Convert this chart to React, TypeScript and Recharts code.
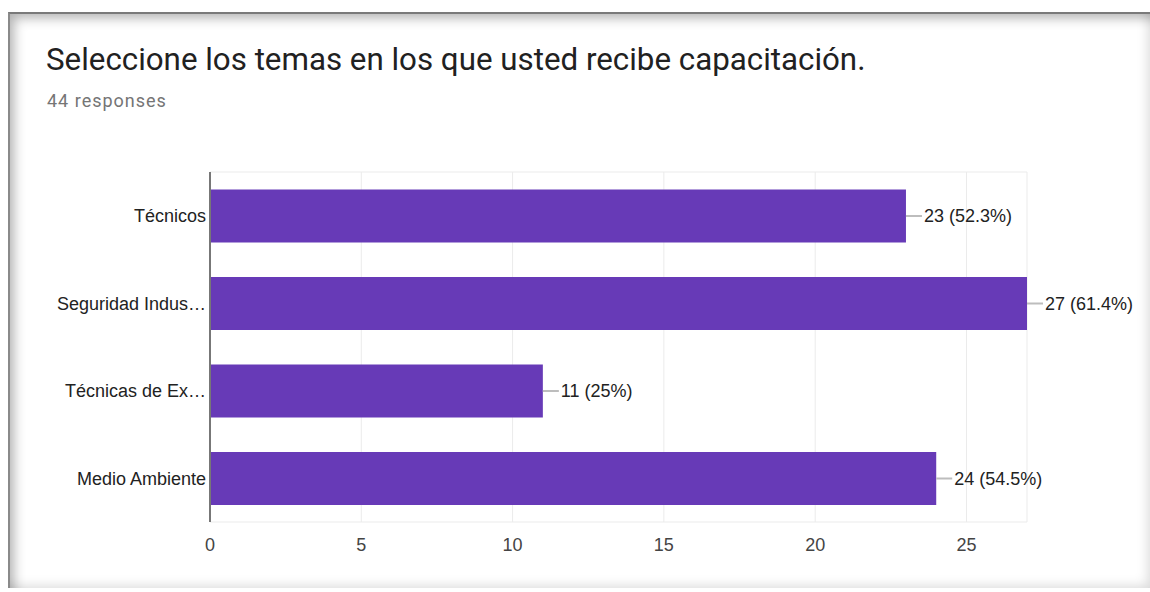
import { BarChart, Bar, XAxis, YAxis, CartesianGrid, LabelList } from "recharts";

const categories = ["Técnicos", "Seguridad Indus…", "Técnicas de Ex…", "Medio Ambiente"];
const counts = [23, 27, 11, 24];
const percents = ["52.3%", "61.4%", "25%", "54.5%"];
const xTicks = [0, 5, 10, 15, 20, 25];
const X_MAX = 27;

const data = categories.map((name, i) => ({
  name,
  value: counts[i],
  label: `${counts[i]} (${percents[i]})`,
}));

const FONT = "Roboto, Arial, sans-serif";
const CHART_FONT = "'Liberation Sans', Arial, sans-serif";
const PURPLE = "#673ab7";

function BarLabel(props: any) {
  const { x, y, width, height, value } = props;
  const x0 = x + width;
  const cy = y + height / 2;
  return (
    <g>
      <line x1={x0} y1={cy} x2={x0 + 16} y2={cy} stroke="#bdbdbd" strokeWidth={2} />
      <text x={x0 + 18} y={cy} dy="0.36em" fontSize={18} fill="#222" fontFamily={CHART_FONT}>
        {value}
      </text>
    </g>
  );
}

export default function App() {
  return (
    <div style={{ position: "absolute", left: 0, top: 0, width: 1150, height: 592, background: "#fff", fontFamily: FONT }}>
      <div
        style={{
          position: "absolute",
          left: 8,
          top: 12,
          width: 1140,
          height: 574,
          borderTop: "2px solid #7a7a7a",
          borderLeft: "2px solid #8a8a8a",
          boxShadow: "inset 8px 8px 12px -4px rgba(0,0,0,0.3), inset -8px -8px 12px -6px rgba(0,0,0,0.15)",
        }}
      />
      <div style={{ position: "absolute", left: 46, top: 44, fontSize: 31.3, lineHeight: 1, color: "#212121", whiteSpace: "nowrap" }}>
        Seleccione los temas en los que usted recibe capacitación.
      </div>
      <div
        style={{
          position: "absolute",
          left: 47,
          top: 92,
          fontSize: 18,
          lineHeight: 1,
          letterSpacing: 1,
          color: "#757575",
          whiteSpace: "nowrap",
        }}
      >
        44 responses
      </div>
      <div style={{ position: "absolute", left: 0, top: 0 }}>
        <BarChart
          width={1150}
          height={592}
          data={data}
          layout="vertical"
          margin={{ top: 172, right: 123, bottom: 40, left: 6 }}
          barCategoryGap="20%"
        >
          <CartesianGrid
            stroke="#ebebeb"
            verticalCoordinatesGenerator={({ offset }: any) => [
              ...xTicks.map((t) => offset.left + (t / X_MAX) * offset.width),
              offset.left + offset.width,
            ]}
            horizontalCoordinatesGenerator={({ offset }: any) => [offset.top, offset.top + offset.height]}
          />
          <XAxis
            type="number"
            domain={[0, X_MAX]}
            ticks={xTicks}
            axisLine={false}
            tickLine={false}
            height={30}
            tick={{ fontSize: 18, fill: "#444", fontFamily: CHART_FONT }}
            tickMargin={10}
          />
          <YAxis
            type="category"
            dataKey="name"
            width={204}
            axisLine={{ stroke: "#777", strokeWidth: 2 }}
            tickLine={false}
            tickSize={0}
            tickMargin={4}
            tick={{ fontSize: 18, fill: "#222", fontFamily: CHART_FONT }}
          />
          <Bar dataKey="value" fill={PURPLE} isAnimationActive={false}>
            <LabelList dataKey="label" content={BarLabel} />
          </Bar>
        </BarChart>
      </div>
    </div>
  );
}
